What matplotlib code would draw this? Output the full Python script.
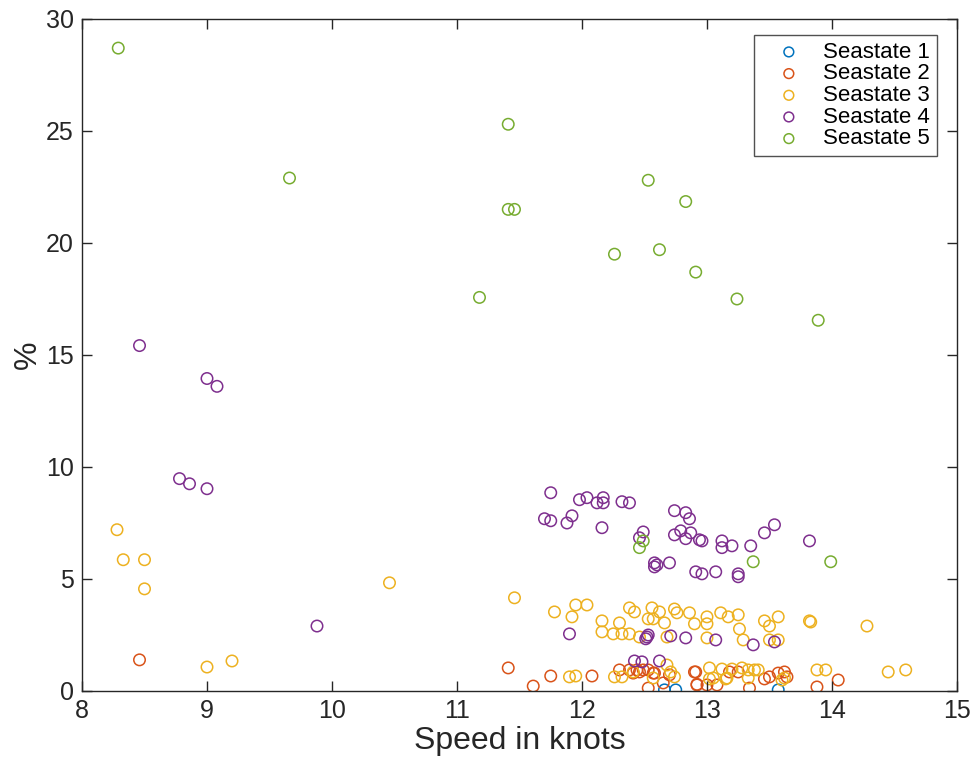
import matplotlib
matplotlib.use('Agg')
import matplotlib.pyplot as plt

plt.rcParams['font.family'] = ['Liberation Sans', 'DejaVu Sans']

# Seastate 1
s1_speed = [12.66, 12.75, 13.57]
s1_pct = [0.05, 0.05, 0.05]

# Seastate 2
s2_speed = [8.46, 11.41, 11.61, 11.75, 12.08, 12.30, 12.38, 12.41, 12.44, 12.46,
            12.49, 12.53, 12.57, 12.58, 12.53, 12.65, 12.70, 12.90, 12.91, 12.92,
            12.92, 13.00, 13.08, 13.18, 13.25, 13.34, 13.46, 13.50, 13.57, 13.62,
            13.64, 13.88, 14.05]
s2_pct = [1.39, 1.03, 0.22, 0.67, 0.67, 0.94, 0.94, 0.80, 0.94, 0.85,
          0.94, 0.94, 0.80, 0.80, 0.13, 0.36, 0.72, 0.85, 0.85, 0.27,
          0.30, 0.27, 0.27, 0.85, 0.85, 0.13, 0.54, 0.63, 0.80, 0.85,
          0.63, 0.18, 0.49]

# Seastate 3
s3_speed = [8.28, 8.33, 8.50, 8.50, 9.00, 9.20, 10.46, 11.46, 11.78, 11.95,
            12.04, 11.92, 12.16, 12.16, 12.25, 12.30, 12.32, 12.38, 12.38, 12.42,
            12.46, 12.53, 12.56, 12.57, 12.62, 12.66, 12.68, 12.74, 12.76, 12.86,
            12.90, 13.00, 13.00, 13.11, 13.17, 13.25, 13.26, 13.00, 13.29, 13.46,
            13.50, 13.57, 13.50, 13.57, 13.82, 13.83, 14.28,
            11.90, 11.95, 12.26, 12.32, 12.41, 12.57, 12.68, 12.71, 12.74,
            13.02, 13.05, 13.12, 13.16, 13.20, 13.28, 13.33, 13.38, 13.41, 13.33,
            13.02, 13.15, 13.60, 13.62, 13.88, 13.95, 14.45, 14.59]
s3_pct = [7.20, 5.86, 5.86, 4.56, 1.07, 1.34, 4.83, 4.16, 3.53, 3.84,
          3.84, 3.31, 3.13, 2.64, 2.55, 3.04, 2.55, 2.55, 3.71, 3.53,
          2.41, 3.22, 3.71, 3.22, 3.53, 3.04, 2.41, 3.66, 3.49, 3.49,
          3.00, 3.31, 3.00, 3.49, 3.31, 3.40, 2.77, 2.37, 2.28, 3.13,
          2.90, 3.31, 2.28, 2.28, 3.13, 3.08, 2.90,
          0.63, 0.67, 0.63, 0.63, 0.85, 0.58, 1.16, 0.85, 0.63,
          1.03, 0.58, 0.98, 0.58, 0.98, 1.03, 0.94, 0.94, 0.94, 0.58,
          0.54, 0.54, 0.49, 0.58, 0.94, 0.94, 0.85, 0.94]

# Seastate 4
s4_speed = [8.46, 9.00, 9.08, 8.78, 8.86, 9.00, 9.88,
            11.75, 11.98, 12.04, 12.12, 12.17, 12.17, 12.32, 12.38,
            11.70, 11.75, 11.88, 11.92, 12.16, 12.49, 12.46,
            12.58, 12.58, 12.60, 12.70, 12.74, 12.83, 12.86,
            12.74, 12.79, 12.87, 12.83, 12.94, 12.91,
            12.96, 13.12, 13.12, 13.20, 13.35, 13.46, 13.54, 13.82,
            12.96, 13.07, 13.25, 13.25,
            11.90, 12.52, 12.53, 12.51, 12.71, 12.83, 13.07, 13.37, 13.54,
            12.42, 12.48, 12.62]
s4_pct = [15.42, 13.95, 13.60, 9.48, 9.25, 9.03, 2.90,
          8.85, 8.54, 8.63, 8.40, 8.63, 8.40, 8.45, 8.40,
          7.69, 7.60, 7.50, 7.82, 7.29, 7.10, 6.84,
          5.72, 5.54, 5.63, 5.72, 8.05, 7.96, 7.69,
          6.97, 7.15, 7.06, 6.80, 6.75, 5.32,
          6.70, 6.70, 6.40, 6.48, 6.48, 7.06, 7.42, 6.70,
          5.23, 5.32, 5.23, 5.10,
          2.55, 2.41, 2.50, 2.33, 2.46, 2.37, 2.28, 2.06, 2.19,
          1.34, 1.30, 1.34]

# Seastate 5
s5_speed = [8.29, 9.66, 11.18, 11.41, 11.41, 11.46, 12.26, 12.53, 12.62, 12.83,
            12.91, 13.24, 13.89, 12.46, 12.49, 13.37, 13.99]
s5_pct = [28.7, 22.9, 17.57, 25.3, 21.5, 21.5, 19.5, 22.8, 19.7, 21.85,
          18.7, 17.5, 16.55, 6.40, 6.70, 5.77, 5.77]

labels = ['Seastate 1', 'Seastate 2', 'Seastate 3', 'Seastate 4', 'Seastate 5']
colors = ['#0072BD', '#D95319', '#EDB120', '#7E2F8E', '#77AC30']
series = [(s1_speed, s1_pct), (s2_speed, s2_pct), (s3_speed, s3_pct),
          (s4_speed, s4_pct), (s5_speed, s5_pct)]

fig = plt.figure(figsize=(9.74, 7.59), dpi=100)
ax = fig.add_axes([0.0842, 0.0896, 0.8983, 0.8854])

for (xs, ys), lab, col in zip(series, labels, colors):
    ax.scatter(xs, ys, s=68, facecolors='none', edgecolors=col,
               linewidths=1.1, label=lab)

ax.set_xlim(8, 15)
ax.set_ylim(0, 30)
ax.set_xticks(range(8, 16))
ax.set_yticks(range(0, 31, 5))
axcol = '#262626'
for sp in ax.spines.values():
    sp.set_color(axcol)
    sp.set_linewidth(1.0)
ax.tick_params(direction='in', top=True, right=True, length=7, width=1.0,
               colors=axcol, labelsize=18, labelcolor='#262626', pad=6)
ax.set_xlabel('Speed in knots', fontsize=23, color='#262626', labelpad=2)
ax.set_ylabel('%', fontsize=23, color='#262626', labelpad=2)

leg = ax.legend(loc='upper right', bbox_to_anchor=(0.977, 0.976), fontsize=16,
                frameon=True, fancybox=False, edgecolor=axcol, borderpad=0.3,
                labelspacing=0.03, handletextpad=0.3, handlelength=2.5,
                borderaxespad=0, markerscale=0.85)
leg.get_frame().set_linewidth(1.0)

fig.savefig('out.png', dpi=100)
